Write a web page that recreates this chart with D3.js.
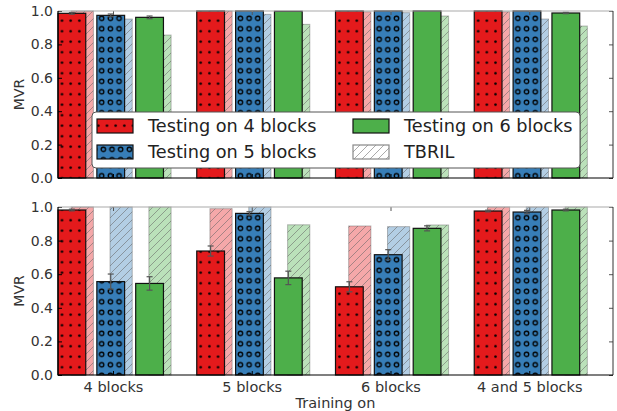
<!DOCTYPE html>
<html lang="en">
<head>
<meta charset="UTF-8">
<title>MVR by training set</title>
<style>
    body { margin: 0; background: #fff; }
    svg { display: block; font-family: "DejaVu Sans", sans-serif; }
</style>
</head>
<body>
<svg id="chart" width="617" height="411"></svg>
<script src="https://d3js.org/d3.v7.min.js"></script>
<script>
// categories on x (training set)
const groups = ["4 blocks", "5 blocks", "6 blocks", "4 and 5 blocks"];
const seriesNames = ["Testing on 4 blocks", "Testing on 5 blocks", "Testing on 6 blocks"];
const yTicks = [0, 0.2, 0.4, 0.6, 0.8, 1.0];

// top panel: [series][group]
const topTest = [
    [0.986, 1.0, 1.0, 1.0],
    [0.974, 1.0, 1.0, 1.0],
    [0.962, 0.998, 1.0, 0.988]
];
const topErr = [
    [0.005, 0, 0, 0],
    [0.008, 0, 0, 0],
    [0.008, 0, 0, 0.004]
];
const topTbril = [
    [1.0, 1.0, 0.995, 0.995],
    [0.952, 0.98, 0.99, 0.952],
    [0.856, 0.92, 0.97, 0.91]
];

// bottom panel
const botTest = [
    [0.982, 0.738, 0.525, 0.976],
    [0.556, 0.962, 0.716, 0.97],
    [0.545, 0.578, 0.873, 0.982]
];
const botErr = [
    [0.005, 0.03, 0.03, 0.005],
    [0.045, 0.01, 0.03, 0.01],
    [0.04, 0.04, 0.015, 0.005]
];
const botTbril = [
    [1.0, 0.99, 0.887, 1.0],
    [1.0, 1.0, 0.883, 1.0],
    [1.0, 0.894, 0.893, 1.0]
];

const colors = ["#e41a1c", "#377eb8", "#4daf4a"];
const fills = ["url(#dots)", "url(#rings)", colors[2]];

const svg = d3.select("#chart");
const x = d3.scaleLinear().domain([0, 4]).range([58, 613]);
const offsets = [0, 0.28, 0.56];   // bar offsets inside a group
const barW = 0.2, tbStart = 0.095, tbW = 0.16, tickPos = 0.4;

// patterns
const defs = svg.append("defs");
const dx = 8.67, dy = 10.5;
const dots = defs.append("pattern").attr("id", "dots")
    .attr("patternUnits", "userSpaceOnUse")
    .attr("x", 62 - dx / 2).attr("y", 20.7 - dy / 2)
    .attr("width", dx).attr("height", dy);
dots.append("rect").attr("width", dx).attr("height", dy).attr("fill", colors[0]);
dots.append("circle").attr("cx", dx / 2).attr("cy", dy / 2).attr("r", 1.3).attr("fill", "#000");

const rings = defs.append("pattern").attr("id", "rings")
    .attr("patternUnits", "userSpaceOnUse")
    .attr("x", 101.7 - dx / 2).attr("y", 18.3 - dy / 2)
    .attr("width", dx).attr("height", dy);
rings.append("rect").attr("width", dx).attr("height", dy).attr("fill", colors[1]);
rings.append("circle").attr("cx", dx / 2).attr("cy", dy / 2).attr("r", 2.2)
    .attr("fill", "none").attr("stroke", "#000").attr("stroke-width", 1.3);

const hatch = defs.append("pattern").attr("id", "hatch")
    .attr("patternUnits", "userSpaceOnUse")
    .attr("width", 8).attr("height", 8);
hatch.append("path").attr("d", "M0,8 L8,0 M-2,2 L2,-2 M6,10 L10,6")
    .attr("stroke", "#666").attr("stroke-width", 0.8).attr("stroke-opacity", 0.7);

const panels = [
    { top: 11, bottom: 178, test: topTest, err: topErr, tbril: topTbril, labels: false },
    { top: 207, bottom: 375, test: botTest, err: botErr, tbril: botTbril, labels: true }
];

panels.forEach(p => {
    const y = d3.scaleLinear().domain([0, 1]).range([p.bottom, p.top]);
    const g = svg.append("g");

    // TBRIL bars (behind)
    p.tbril.forEach((vals, s) => {
        const bars = g.selectAll(null).data(vals).enter();
        bars.append("rect")
            .attr("x", (d, i) => x(i + offsets[s] + tbStart))
            .attr("width", x(tbW) - x(0))
            .attr("y", d => y(d))
            .attr("height", d => y(0) - y(d))
            .attr("fill", colors[s]).attr("fill-opacity", 0.38);
        bars.append("rect")
            .attr("x", (d, i) => x(i + offsets[s] + tbStart))
            .attr("width", x(tbW) - x(0))
            .attr("y", d => y(d))
            .attr("height", d => y(0) - y(d))
            .attr("fill", "url(#hatch)")
            .attr("stroke", "#555").attr("stroke-opacity", 0.4).attr("stroke-width", 1);
    });

    // test bars
    p.test.forEach((vals, s) => {
        g.selectAll(null).data(vals).enter().append("rect")
            .attr("x", (d, i) => x(i + offsets[s]))
            .attr("width", x(barW) - x(0))
            .attr("y", d => y(d))
            .attr("height", d => y(0) - y(d))
            .attr("fill", fills[s])
            .attr("stroke", "#111").attr("stroke-width", 1.2);
    });

    // error bars
    p.test.forEach((vals, s) => {
        const e = g.selectAll(null).data(vals.map((v, i) => ({ v, e: p.err[s][i], i }))).enter()
            .filter(d => d.e > 0);
        const cx = d => x(d.i + offsets[s] + barW / 2);
        e.append("line").attr("x1", cx).attr("x2", cx)
            .attr("y1", d => y(Math.min(1, d.v + d.e))).attr("y2", d => y(d.v - d.e))
            .attr("stroke", "#555").attr("stroke-width", 1.2);
        [1, -1].forEach(sg => {
            e.append("line").attr("x1", d => cx(d) - 3).attr("x2", d => cx(d) + 3)
                .attr("y1", d => y(Math.min(1, d.v + sg * d.e))).attr("y2", d => y(Math.min(1, d.v + sg * d.e)))
                .attr("stroke", "#555").attr("stroke-width", 1.2);
        });
    });

    // y axis left
    const yl = g.append("g").attr("transform", `translate(${x(0)},0)`)
        .call(d3.axisLeft(y).tickValues(yTicks).tickFormat(d3.format(".1f"))
            .tickSizeInner(-4).tickSizeOuter(0).tickPadding(5));
    yl.select(".domain").remove();
    yl.selectAll("line").attr("stroke", "#000");
    yl.selectAll("text").attr("font-size", 14).attr("fill", "#333")
        .attr("font-family", "DejaVu Sans, sans-serif");

    // right ticks
    const yr = g.append("g").attr("transform", `translate(${x(4)},0)`)
        .call(d3.axisRight(y).tickValues(yTicks).tickFormat("").tickSizeInner(-4).tickSizeOuter(0));
    yr.select(".domain").remove();
    yr.selectAll("line").attr("stroke", "#555");

    // x ticks top and bottom
    const xt = groups.map((d, i) => i + tickPos);
    g.selectAll(null).data(xt).enter().append("line")
        .attr("x1", d => x(d)).attr("x2", d => x(d))
        .attr("y1", p.top).attr("y2", p.top + 4).attr("stroke", "#555");
    g.selectAll(null).data(xt).enter().append("line")
        .attr("x1", d => x(d)).attr("x2", d => x(d))
        .attr("y1", p.bottom).attr("y2", p.bottom - 4).attr("stroke", "#000");

    // spines
    g.append("line").attr("x1", x(0)).attr("x2", x(4)).attr("y1", p.top).attr("y2", p.top)
        .attr("stroke", "#aaa").attr("stroke-width", 1.2);
    g.append("line").attr("x1", x(4)).attr("x2", x(4)).attr("y1", p.top).attr("y2", p.bottom)
        .attr("stroke", "#333").attr("stroke-width", 1);
    g.append("line").attr("x1", x(0)).attr("x2", x(0)).attr("y1", p.top).attr("y2", p.bottom)
        .attr("stroke", "#000").attr("stroke-width", 1.2);
    g.append("line").attr("x1", x(0)).attr("x2", x(4)).attr("y1", p.bottom).attr("y2", p.bottom)
        .attr("stroke", "#000").attr("stroke-width", 1.2);

    g.append("text").attr("transform", `translate(19,${(p.top + p.bottom) / 2}) rotate(-90)`)
        .attr("text-anchor", "middle").attr("dominant-baseline", "central")
        .attr("font-size", 14).attr("fill", "#333").text("MVR");

    if (p.labels) {
        g.selectAll(null).data(groups).enter().append("text")
            .attr("x", (d, i) => x(i + tickPos)).attr("y", p.bottom + 12)
            .attr("text-anchor", "middle").attr("dominant-baseline", "central")
            .attr("font-size", 14.5).attr("fill", "#333").text(d => d);
        g.append("text").attr("x", (x(0) + x(4)) / 2).attr("y", p.bottom + 28)
            .attr("text-anchor", "middle").attr("dominant-baseline", "central")
            .attr("font-size", 14.5).attr("fill", "#333").text("Training on");
    }
});

// legend
const lg = svg.append("g");
lg.append("rect").attr("x", 92).attr("y", 112).attr("width", 488).attr("height", 56)
    .attr("rx", 4).attr("fill", "#fff").attr("stroke", "#555").attr("stroke-width", 1);
const legendItems = [
    { name: seriesNames[0], fill: fills[0], stroke: "#111", col: 0, row: 0 },
    { name: seriesNames[1], fill: fills[1], stroke: "#111", col: 0, row: 1 },
    { name: seriesNames[2], fill: fills[2], stroke: "#111", col: 1, row: 0 },
    { name: "TBRIL", fill: "url(#hatch)", stroke: "#888", col: 1, row: 1 }
];
const colX = [97, 353], rowY = [126, 152];
const li = lg.selectAll(null).data(legendItems).enter().append("g")
    .attr("transform", d => `translate(${colX[d.col]},${rowY[d.row]})`);
li.append("rect").attr("x", 0).attr("y", -7).attr("width", 36).attr("height", 14)
    .attr("fill", d => d.fill).attr("stroke", d => d.stroke).attr("stroke-width", 1.2);
li.append("text").attr("x", 51).attr("y", 0).attr("dominant-baseline", "central")
    .attr("font-size", 17.7).attr("fill", "#222").text(d => d.name);
</script>
</body>
</html>
